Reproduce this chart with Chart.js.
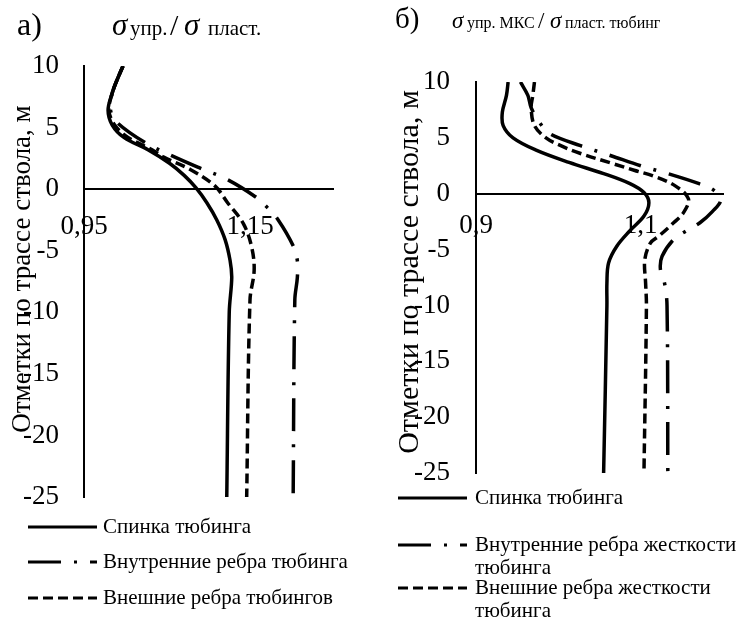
<!DOCTYPE html>
<html>
<head>
<meta charset="utf-8">
<script src="https://cdn.jsdelivr.net/npm/chart.js@4.4.1/dist/chart.umd.min.js"></script>
<style>
  html, body { margin: 0; padding: 0; background: #fff; }
  #wrap { position: relative; width: 739px; height: 620px; }
  .box { position: absolute; top: 0; height: 620px; }
  #boxA { left: 0; width: 370px; }
  #boxB { left: 370px; width: 369px; }
</style>
</head>
<body>
<div id="wrap">
  <div class="box" id="boxA"><canvas id="chartA"></canvas></div>
  <div class="box" id="boxB"><canvas id="chartB"></canvas></div>
</div>
<script>
const serif = "'Liberation Serif', 'Times New Roman', serif";
Chart.defaults.font.family = serif;
Chart.defaults.color = '#000';

// labels
const seriesNames = ['Спинка тюбинга', 'Внутренние ребра тюбинга', 'Внешние ребра тюбингов'];
const seriesNamesB = ['Спинка тюбинга', 'Внутренние ребра жесткости\nтюбинга', 'Внешние ребра жесткости\nтюбинга'];
const yTitleText = 'Отметки по трассе ствола, м';
const yTicks = [-25, 10, 5];        // min, max, step
const xTicksA = [0.95, 1.15];
const xTicksB = [0.9, 1.1];

// a) sigma upr / sigma plast
const aSpinkaY = [10, 8.9, 7.8, 6.4, 5.2, 4.2, 3.2, 2.1, 1.1, 0.1, -1.1, -2.5, -4.1, -5.8, -7.2, -10, -25];
const aSpinkaX = [0.997, 0.990, 0.984, 0.979, 0.984, 0.998, 1.027, 1.053, 1.071, 1.085, 1.098, 1.110, 1.120, 1.126, 1.128, 1.125, 1.122];
const aVnutrY = [10, 7.8, 6.4, 5.4, 3.8, 2.8, 1.7, 0.8, -0.6, -1.5, -2.5, -4.6, -5.8, -7.2, -9, -25];
const aVnutrX = [0.997, 0.984, 0.982, 0.990, 1.023, 1.053, 1.090, 1.122, 1.156, 1.171, 1.184, 1.202, 1.207, 1.207, 1.204, 1.202];
const aVneshY = [10, 8.9, 7.8, 6.4, 5.2, 4.2, 3.2, 2.6, 1.6, 0.24, -1.1, -2.8, -4.7, -6.6, -9, -25];
const aVneshX = [0.997, 0.990, 0.984, 0.980, 0.987, 1.003, 1.032, 1.046, 1.078, 1.108, 1.123, 1.142, 1.152, 1.155, 1.150, 1.146];

// б) sigma upr MKS / sigma plast tubing
const bSpinkaY = [10, 8.8, 7.3, 6.1, 5.0, 3.9, 2.8, 1.8, 0.9, 0.1, -0.8, -2.0, -3.3, -4.7, -6.2, -8.0, -10, -25];
const bSpinkaX = [0.939, 0.937, 0.932, 0.933, 0.945, 0.973, 1.013, 1.055, 1.087, 1.104, 1.110, 1.104, 1.087, 1.071, 1.061, 1.059, 1.059, 1.055];
const bVnutrY = [10, 8.8, 7.7, 6.4, 5.4, 4.3, 3.4, 2.5, 1.8, 0.9, 0.3, -0.6, -1.6, -2.6, -3.3, -4.1, -5.6, -6.8, -8.0, -10, -25];
const bVnutrX = [0.954, 0.963, 0.967, 0.977, 0.989, 1.027, 1.064, 1.100, 1.133, 1.171, 1.189, 1.197, 1.187, 1.172, 1.156, 1.140, 1.126, 1.124, 1.129, 1.132, 1.133];
const bVneshY = [10, 8.8, 7.7, 6.1, 5.0, 4.3, 3.6, 2.7, 2.1, 1.6, 0.7, -0.45, -1.7, -2.6, -3.8, -4.4, -5.9, -8.0, -10, -25];
const bVneshX = [0.971, 0.969, 0.967, 0.971, 0.985, 1.003, 1.027, 1.066, 1.092, 1.115, 1.142, 1.158, 1.152, 1.140, 1.122, 1.112, 1.105, 1.106, 1.107, 1.104];

const pts = (xs, ys) => ys.map((y, i) => ({ x: xs[i], y: y }));
const comma = v => String(v).replace('.', ',');

function lines(names, sets) {
  const dashes = [[], [33, 13, 3, 13], [10, 5]];
  return sets.map((d, i) => ({
    label: names[i],
    data: d,
    showLine: true,
    borderColor: '#000',
    borderWidth: 3.5,
    borderDash: dashes[i],
    borderCapStyle: 'butt',
    tension: 0.35,
    pointRadius: 0
  }));
}

// titles, axis title and legend drawn on the canvas
const decor = {
  id: 'decor',
  afterDraw(chart, args, o) {
    const ctx = chart.ctx;
    ctx.save();
    ctx.fillStyle = '#000';
    ctx.textAlign = 'left';
    ctx.textBaseline = 'alphabetic';
    o.title.forEach(r => {
      ctx.font = (r.italic ? 'italic ' : '') + r.size + 'px ' + serif;
      ctx.fillText(r.text, r.x, o.titleY);
    });

    ctx.save();
    ctx.translate(o.yTitle.x, o.yTitle.y);
    ctx.rotate(-Math.PI / 2);
    ctx.textAlign = 'center';
    ctx.font = o.yTitle.size + 'px ' + serif;
    ctx.fillText(yTitleText, 0, 0);
    ctx.restore();

    const lg = o.legend;
    chart.data.datasets.forEach((ds, i) => {
      const y = lg.ys[i];
      ctx.save();
      ctx.strokeStyle = ds.borderColor;
      ctx.lineWidth = 3;
      ctx.setLineDash(ds.borderDash);
      ctx.beginPath();
      ctx.moveTo(lg.x1, y);
      ctx.lineTo(lg.x2, y);
      ctx.stroke();
      ctx.restore();
      ctx.font = lg.size + 'px ' + serif;
      ctx.textBaseline = 'middle';
      ds.label.split('\n').forEach((t, k) => ctx.fillText(t, lg.tx, y + k * lg.lineH));
    });
    ctx.restore();
  }
};

function makeChart(id, sets, names, xr, xTicks, geo, decorOpts) {
  return new Chart(document.getElementById(id), {
    type: 'scatter',
    data: { datasets: lines(names, sets) },
    plugins: [decor],
    options: {
      responsive: true,
      maintainAspectRatio: false,
      animation: false,
      layout: { padding: { left: 0, top: geo.top, right: geo.right, bottom: geo.bottom } },
      plugins: { legend: { display: false }, tooltip: { enabled: false }, decor: decorOpts },
      scales: {
        x: {
          type: 'linear',
          min: xr[0],
          max: xr[1],
          position: { y: 0 },
          grid: { display: false, drawTicks: false },
          border: { display: true, color: '#000', width: 2 },
          ticks: { font: { size: 27 }, color: '#000', padding: geo.xPad, maxRotation: 0, callback: v => comma(v) },
          afterBuildTicks: s => { s.ticks = xTicks.map(v => ({ value: v })); },
          afterFit: s => { s.height = 0; }
        },
        y: {
          type: 'linear',
          min: yTicks[0],
          max: yTicks[1],
          position: 'left',
          grid: { display: false, drawTicks: false },
          border: { display: true, color: '#000', width: 2 },
          ticks: { stepSize: yTicks[2], font: { size: 27 }, color: '#000', padding: geo.yPad },
          afterFit: s => { s.width = geo.left; }
        }
      }
    }
  });
}

makeChart('chartA',
  [pts(aSpinkaX, aSpinkaY), pts(aVnutrX, aVnutrY), pts(aVneshX, aVneshY)],
  seriesNames, [0.95, 1.25], xTicksA,
  { left: 84, top: 66, right: 37, bottom: 123, xPad: 22, yPad: 25 },
  {
    titleY: 35,
    title: [
      { text: 'а)', x: 17, size: 32 },
      { text: 'σ', x: 112, size: 31, italic: true },
      { text: 'упр.', x: 130, size: 21 },
      { text: '/', x: 170, size: 30 },
      { text: 'σ', x: 184, size: 31, italic: true },
      { text: 'пласт.', x: 208, size: 21 }
    ],
    yTitle: { x: 30, y: 269, size: 27 },
    legend: { x1: 28, x2: 97, tx: 103, ys: [527, 562, 598], lineH: 23, size: 21 }
  });

makeChart('chartB',
  [pts(bSpinkaX, bSpinkaY), pts(bVnutrX, bVnutrY), pts(bVneshX, bVneshY)],
  seriesNamesB, [0.9, 1.2], xTicksB,
  { left: 106, top: 82, right: 16, bottom: 147, xPad: 16, yPad: 26 },
  {
    titleY: 28,
    title: [
      { text: 'б)', x: 25, size: 29 },
      { text: 'σ', x: 82, size: 23, italic: true },
      { text: 'упр. МКС', x: 97, size: 16 },
      { text: '/', x: 168, size: 23 },
      { text: 'σ', x: 180, size: 23, italic: true },
      { text: 'пласт. тюбинг', x: 195, size: 16 }
    ],
    yTitle: { x: 48, y: 272, size: 30 },
    legend: { x1: 28, x2: 97, tx: 105, ys: [498, 545, 588], lineH: 23, size: 21 }
  });
</script>
</body>
</html>
